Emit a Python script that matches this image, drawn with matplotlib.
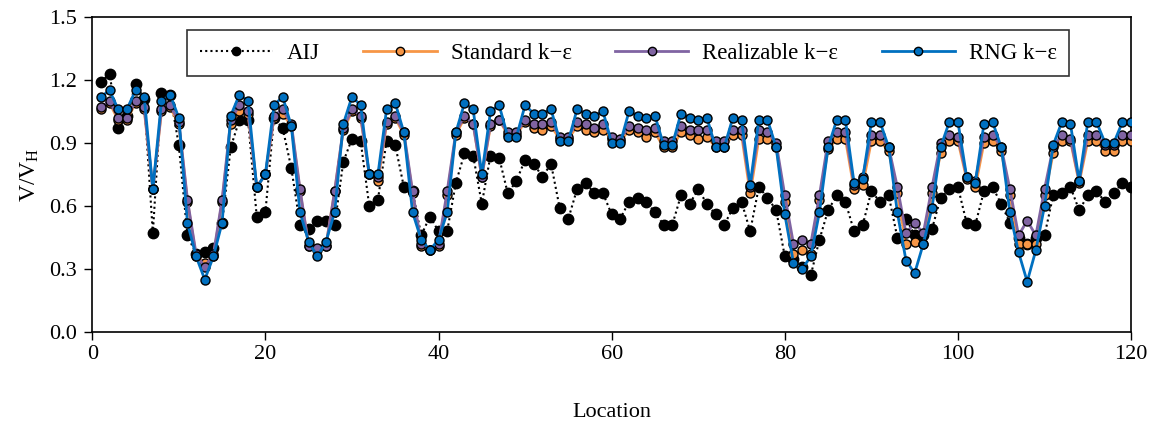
import matplotlib
matplotlib.use("Agg")
import matplotlib.pyplot as plt
import numpy as np

plt.rcParams['font.family'] = ['Liberation Serif', 'DejaVu Serif']
plt.rcParams['mathtext.fontset'] = 'custom'
plt.rcParams['mathtext.rm'] = 'Liberation Serif'

# 测点 1..120
location = np.arange(1, 121)

aij = [1.19, 1.23, 0.97, 1.03, 1.18, 1.11, 0.47, 1.14, 1.13, 0.89,
       0.46, 0.37, 0.38, 0.40, 0.52, 0.88, 1.01, 1.01, 0.55, 0.57,
       1.02, 0.97, 0.78, 0.51, 0.49, 0.53, 0.53, 0.51, 0.81, 0.92,
       0.91, 0.60, 0.63, 0.91, 0.89, 0.69, 0.67, 0.46, 0.55, 0.48,
       0.48, 0.71, 0.85, 0.84, 0.61, 0.84, 0.83, 0.66, 0.72, 0.82,
       0.80, 0.74, 0.80, 0.59, 0.54, 0.68, 0.71, 0.66, 0.66, 0.56,
       0.54, 0.62, 0.64, 0.62, 0.57, 0.51, 0.51, 0.65, 0.61, 0.68,
       0.61, 0.56, 0.51, 0.59, 0.62, 0.48, 0.69, 0.64, 0.58, 0.36,
       0.35, 0.31, 0.27, 0.44, 0.58, 0.65, 0.62, 0.48, 0.51, 0.67,
       0.62, 0.65, 0.45, 0.54, 0.46, 0.46, 0.49, 0.64, 0.68, 0.69,
       0.52, 0.51, 0.67, 0.69, 0.61, 0.52, 0.45, 0.42, 0.45, 0.46,
       0.65, 0.66, 0.69, 0.58, 0.65, 0.67, 0.62, 0.66, 0.71, 0.69]

standard = [1.06, 1.09, 1.01, 1.01, 1.09, 1.06, 0.68, 1.05, 1.07, 0.99,
            0.62, 0.36, 0.33, 0.36, 0.62, 0.99, 1.05, 1.04, 0.69, 0.75,
            1.02, 1.04, 0.98, 0.67, 0.41, 0.39, 0.41, 0.67, 0.96, 1.05,
            1.02, 0.75, 0.72, 0.99, 1.02, 0.94, 0.66, 0.41, 0.39, 0.41,
            0.65, 0.94, 1.02, 0.99, 0.74, 0.98, 1.01, 0.94, 0.94, 1.00,
            0.97, 0.96, 0.98, 0.92, 0.92, 0.98, 0.96, 0.95, 0.96, 0.92,
            0.91, 0.96, 0.95, 0.93, 0.95, 0.88, 0.88, 0.95, 0.94, 0.92,
            0.93, 0.88, 0.88, 0.94, 0.94, 0.66, 0.92, 0.92, 0.88, 0.62,
            0.37, 0.39, 0.37, 0.63, 0.87, 0.92, 0.92, 0.68, 0.70, 0.91,
            0.91, 0.86, 0.66, 0.42, 0.43, 0.42, 0.66, 0.85, 0.91, 0.91,
            0.73, 0.69, 0.90, 0.91, 0.86, 0.65, 0.42, 0.42, 0.42, 0.65,
            0.85, 0.91, 0.91, 0.71, 0.91, 0.91, 0.86, 0.86, 0.91, 0.91]

realizable = [1.07, 1.10, 1.02, 1.02, 1.10, 1.07, 0.68, 1.06, 1.08, 1.00,
              0.63, 0.37, 0.31, 0.37, 0.63, 1.01, 1.08, 1.05, 0.69, 0.75,
              1.03, 1.06, 0.99, 0.68, 0.41, 0.40, 0.41, 0.67, 0.97, 1.06,
              1.03, 0.75, 0.74, 1.00, 1.03, 0.95, 0.67, 0.42, 0.39, 0.42,
              0.67, 0.95, 1.03, 0.99, 0.74, 0.99, 1.01, 0.95, 0.95, 1.01,
              0.99, 0.99, 1.00, 0.93, 0.93, 1.00, 0.99, 0.97, 0.99, 0.93,
              0.92, 0.98, 0.97, 0.96, 0.97, 0.91, 0.91, 0.98, 0.96, 0.96,
              0.96, 0.91, 0.91, 0.96, 0.96, 0.69, 0.96, 0.95, 0.90, 0.65,
              0.42, 0.44, 0.42, 0.65, 0.91, 0.95, 0.95, 0.70, 0.74, 0.94,
              0.94, 0.88, 0.69, 0.47, 0.52, 0.47, 0.69, 0.90, 0.94, 0.93,
              0.74, 0.72, 0.93, 0.94, 0.88, 0.68, 0.46, 0.53, 0.46, 0.68,
              0.88, 0.94, 0.92, 0.72, 0.94, 0.94, 0.89, 0.89, 0.94, 0.94]

rng = [1.12, 1.15, 1.06, 1.06, 1.15, 1.12, 0.68, 1.10, 1.13, 1.02,
       0.52, 0.36, 0.25, 0.36, 0.52, 1.03, 1.13, 1.10, 0.69, 0.75,
       1.08, 1.12, 0.98, 0.57, 0.43, 0.36, 0.43, 0.57, 0.99, 1.12,
       1.08, 0.75, 0.75, 1.06, 1.09, 0.95, 0.57, 0.44, 0.39, 0.44,
       0.57, 0.95, 1.09, 1.06, 0.75, 1.05, 1.08, 0.93, 0.93, 1.08,
       1.04, 1.04, 1.06, 0.91, 0.91, 1.06, 1.04, 1.03, 1.05, 0.90,
       0.90, 1.05, 1.03, 1.02, 1.03, 0.89, 0.89, 1.04, 1.02, 1.01,
       1.02, 0.88, 0.88, 1.02, 1.01, 0.70, 1.01, 1.01, 0.88, 0.56,
       0.33, 0.30, 0.36, 0.57, 0.88, 1.01, 1.01, 0.71, 0.73, 1.00,
       1.00, 0.88, 0.57, 0.34, 0.28, 0.42, 0.59, 0.88, 1.00, 1.00,
       0.74, 0.71, 0.99, 1.00, 0.88, 0.57, 0.38, 0.24, 0.39, 0.60,
       0.89, 1.00, 0.99, 0.72, 1.00, 1.00, 0.90, 0.90, 1.00, 1.00]

fig = plt.figure(figsize=(11.53, 4.23), dpi=100)
ax = fig.add_axes([0.080, 0.215, 0.901, 0.745])

mk = dict(marker='o', markersize=6.5, markeredgecolor='black', markeredgewidth=1.0)

ax.plot(location, aij, color='black', linestyle=(0, (1, 1.5)), linewidth=1.5,
        marker='o', markersize=7.5, markerfacecolor='black', markeredgecolor='black',
        label='AIJ', zorder=2)
ax.plot(location, standard, color='#F79646', linewidth=2.0, markerfacecolor='#F79646',
        label='Standard k\u2212\u03b5', zorder=3, **mk)
ax.plot(location, realizable, color='#8064A2', linewidth=2.0, markerfacecolor='#8064A2',
        label='Realizable k\u2212\u03b5', zorder=4, **mk)
ax.plot(location, rng, color='#0070C0', linewidth=2.0, markerfacecolor='#0070C0',
        label='RNG k\u2212\u03b5', zorder=5, **mk)

ax.set_xlim(0, 120)
ax.set_ylim(0, 1.5)
ax.set_xticks(np.arange(0, 121, 20))
ax.set_yticks(np.arange(0, 1.51, 0.3))
ax.set_yticklabels([f"{v:.1f}" for v in np.arange(0, 1.51, 0.3)])
ax.tick_params(direction='out', labelsize=16, length=6, width=1)
ax.tick_params(axis='y', pad=5)
for sp in ax.spines.values():
    sp.set_linewidth(1.2)

ax.set_xlabel("Location", fontsize=16, labelpad=28)
ax.set_ylabel(r"$\mathregular{V/V_H}$", fontsize=17, labelpad=6)

leg = ax.legend(loc='upper center', bbox_to_anchor=(0.516, 0.958), borderaxespad=0,
                ncol=4, fontsize=16.5, frameon=True, fancybox=False, edgecolor='black',
                handlelength=3.2, columnspacing=1.9, handletextpad=0.6, borderpad=0.55)
leg.get_frame().set_linewidth(1.2)
for h in leg.get_lines():
    h.set_markersize(6)

fig.savefig("out.png", dpi=100)
